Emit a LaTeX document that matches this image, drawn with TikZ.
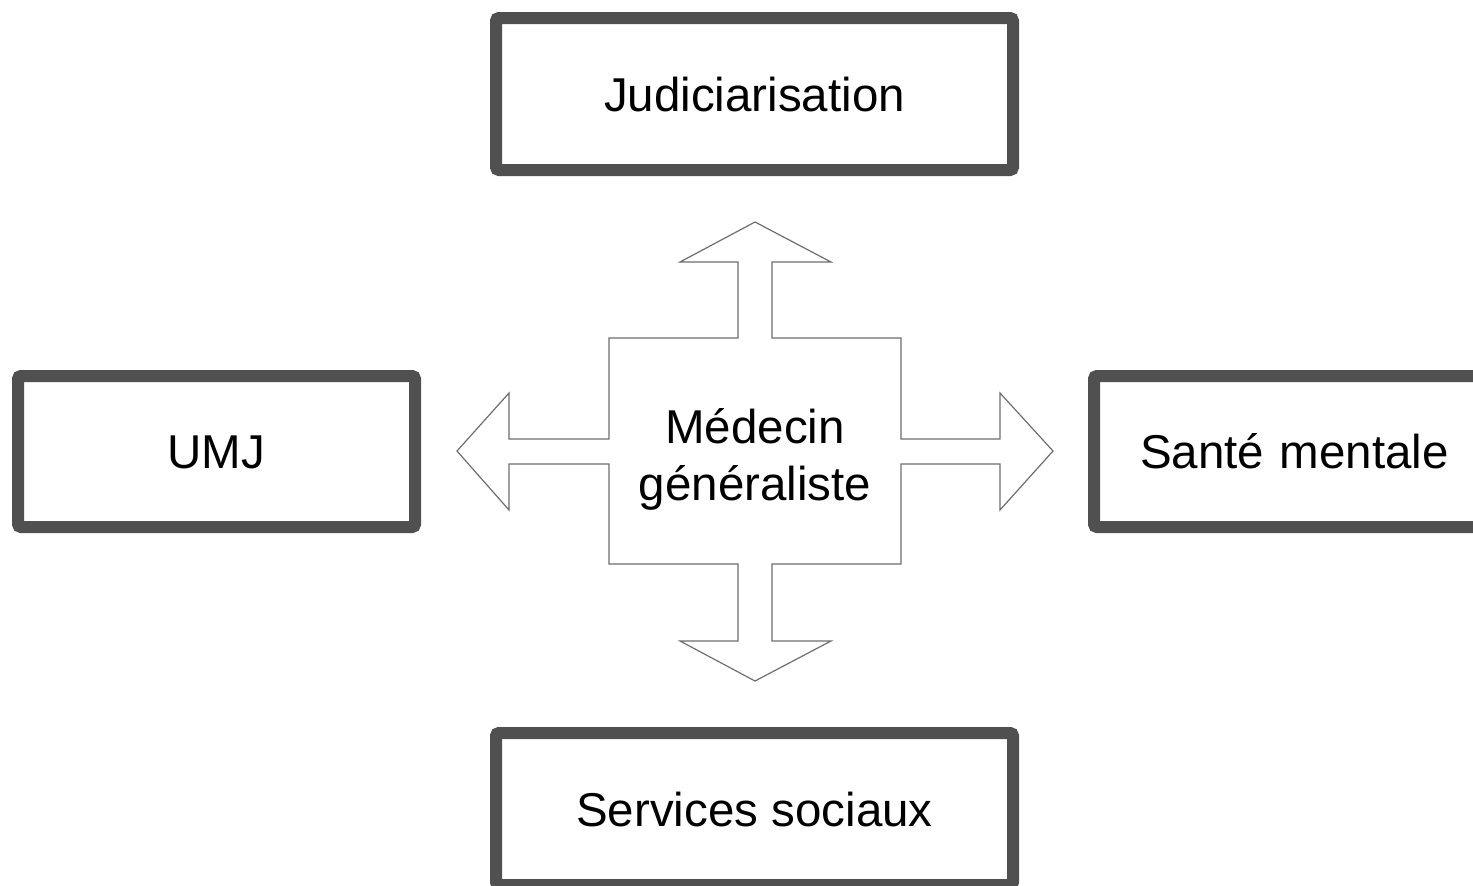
\documentclass[tikz,border=0pt]{standalone}
\usepackage{fontspec}
\setmainfont{Liberation Sans}
\definecolor{boxgray}{HTML}{505050}
\definecolor{crossgray}{HTML}{6E6E6E}
\tikzset{
  boxnode/.style={draw=boxgray, line width=12pt, rounded corners=3pt, fill=white,
    inner sep=0pt, text height=34pt, text depth=-6pt,
    font=\fontsize{47.5}{57}\selectfont},
  crossline/.style={draw=crossgray, line width=1.2pt, line join=miter, fill=white},
  centertext/.style={align=center, inner sep=0pt, font=\fontsize{47.5}{57}\selectfont}
}
\begin{document}
\begin{tikzpicture}[x=1pt, y=-1pt]
\useasboundingbox (0,0) rectangle (1473,886);
\clip (0,0) rectangle (1473,886);
\fill[white] (0,0) rectangle (1473,886);
% boxes
\node[boxnode, minimum width=517pt, minimum height=152pt] (jud) at (754.5,94) {Judiciarisation};
\node[boxnode, minimum width=397pt, minimum height=151pt] (umj) at (216.5,451.5) {UMJ};
\node[boxnode, minimum width=398pt, minimum height=151pt, text width=398pt, align=left] (sante) at (1293,451.5) {\hspace*{46pt}Santé mentale};
\node[boxnode, minimum width=517pt, minimum height=152pt] (serv) at (754.5,809) {Services sociaux};
% cross with four arrows
\coordinate (c) at (755,451);
\draw[crossline]
  (755,222) -- (831,262) -- (772,262) -- (772,338) -- (901,338) -- (901,439)
  -- (1000,439) -- (1000,393) -- (1053,451) -- (1000,510) -- (1000,464)
  -- (901,464) -- (901,564) -- (772,564) -- (772,641) -- (831,641)
  -- (755,681) -- (680,641) -- (738,641) -- (738,564) -- (609,564)
  -- (609,464) -- (509,464) -- (509,510) -- (457,451) -- (509,393)
  -- (509,439) -- (609,439) -- (609,338) -- (738,338) -- (738,262)
  -- (680,262) -- cycle;
\node[centertext] (med) at (755,459) {Médecin\\généraliste};
\end{tikzpicture}
\end{document}
